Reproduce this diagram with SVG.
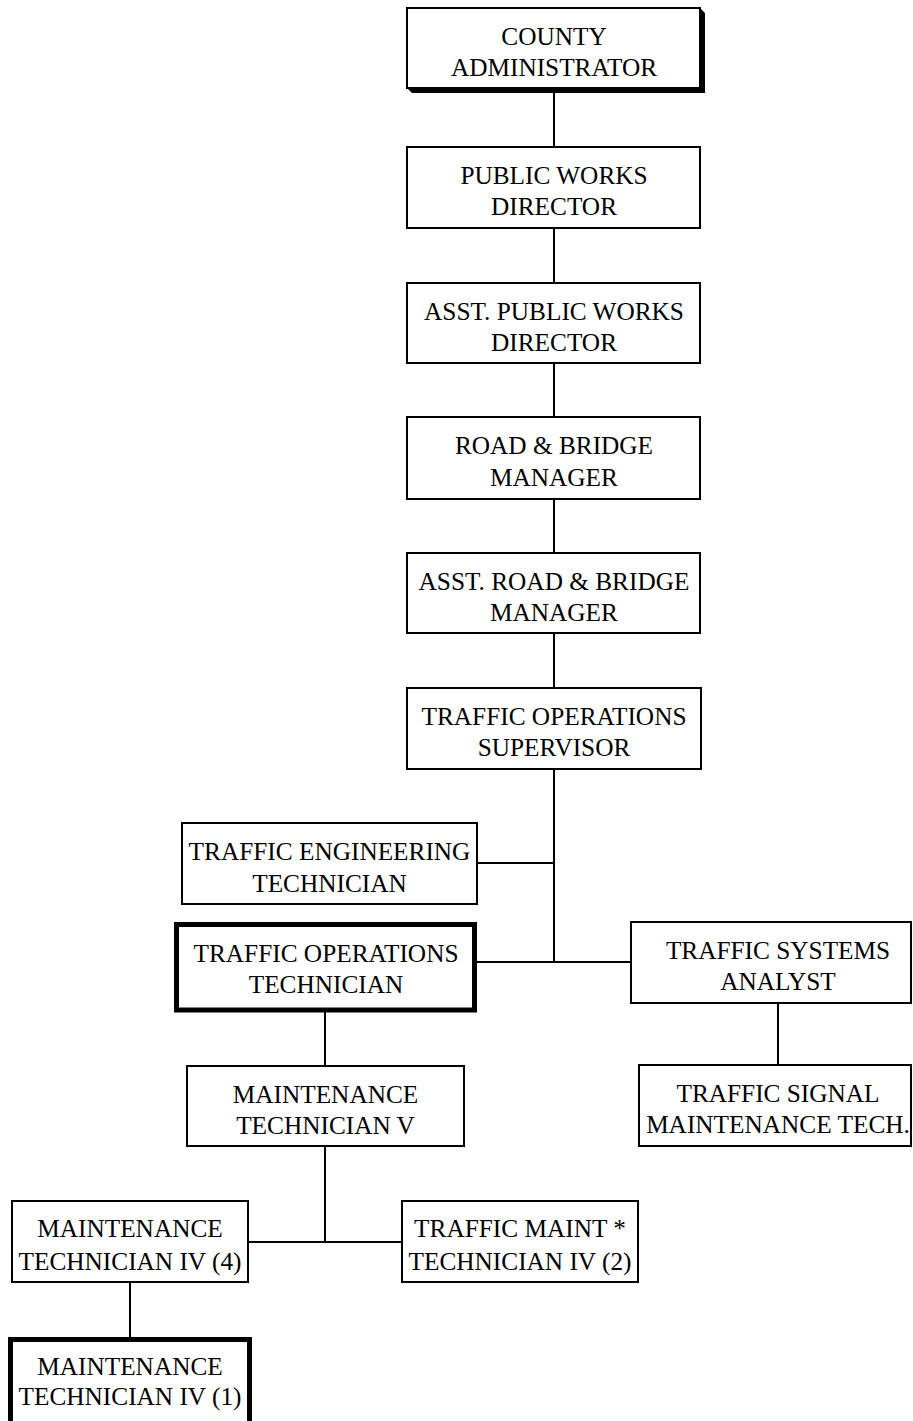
<svg xmlns="http://www.w3.org/2000/svg" width="913" height="1421" viewBox="0 0 913 1421">
  <style>
    .box { fill: #ffffff; stroke: #000000; stroke-width: 2; }
    .box-bold { fill: #ffffff; stroke: #000000; stroke-width: 5; }
    .shadow { fill: #000000; }
    .label { font-family: "Liberation Serif", "Times New Roman", serif; font-size: 25.3px; fill: #000000; text-anchor: middle; }
    .link { stroke: #000000; stroke-width: 2; fill: none; }
  </style>
  <rect x="0" y="0" width="913" height="1421" fill="#ffffff"/>

  <g id="connectors">
    <line class="link" x1="554" y1="88" x2="554" y2="147"/>
    <line class="link" x1="554" y1="228" x2="554" y2="283"/>
    <line class="link" x1="554" y1="363" x2="554" y2="417"/>
    <line class="link" x1="554" y1="499" x2="554" y2="553"/>
    <line class="link" x1="554" y1="633" x2="554" y2="688"/>
    <line class="link" x1="554" y1="769" x2="554" y2="962"/>
    <line class="link" x1="477" y1="863" x2="554" y2="863"/>
    <line class="link" x1="477" y1="962" x2="631" y2="962"/>
    <line class="link" x1="778" y1="1003" x2="778" y2="1065"/>
    <line class="link" x1="325" y1="1012" x2="325" y2="1066"/>
    <line class="link" x1="325" y1="1146" x2="325" y2="1242"/>
    <line class="link" x1="248" y1="1242" x2="402" y2="1242"/>
    <line class="link" x1="130" y1="1282" x2="130" y2="1339"/>
  </g>

  <g id="county-administrator">
    <polygon class="shadow" points="700,8 705,13 705,93 412,93 407,88 700,88"/>
    <rect class="box" x="407" y="8" width="293" height="80"/>
    <text class="label" x="554" y="45">COUNTY</text>
    <text class="label" x="554" y="76">ADMINISTRATOR</text>
  </g>

  <g id="public-works-director">
    <rect class="box" x="407" y="147" width="293" height="81"/>
    <text class="label" x="554" y="184">PUBLIC WORKS</text>
    <text class="label" x="554" y="215">DIRECTOR</text>
  </g>

  <g id="asst-public-works-director">
    <rect class="box" x="407" y="283" width="293" height="80"/>
    <text class="label" x="554" y="320">ASST. PUBLIC WORKS</text>
    <text class="label" x="554" y="351">DIRECTOR</text>
  </g>

  <g id="road-bridge-manager">
    <rect class="box" x="407" y="417" width="293" height="82"/>
    <text class="label" x="554" y="454">ROAD &amp; BRIDGE</text>
    <text class="label" x="554" y="486">MANAGER</text>
  </g>

  <g id="asst-road-bridge-manager">
    <rect class="box" x="407" y="553" width="293" height="80"/>
    <text class="label" x="554" y="590">ASST. ROAD &amp; BRIDGE</text>
    <text class="label" x="554" y="621">MANAGER</text>
  </g>

  <g id="traffic-operations-supervisor">
    <rect class="box" x="407" y="688" width="294" height="81"/>
    <text class="label" x="554" y="725">TRAFFIC OPERATIONS</text>
    <text class="label" x="554" y="756">SUPERVISOR</text>
  </g>

  <g id="traffic-engineering-technician">
    <rect class="box" x="182" y="823" width="295" height="81"/>
    <text class="label" x="329.5" y="860">TRAFFIC ENGINEERING</text>
    <text class="label" x="329.5" y="892">TECHNICIAN</text>
  </g>

  <g id="traffic-operations-technician">
    <rect class="box-bold" x="176.5" y="924.5" width="298" height="85.5"/>
    <text class="label" x="326" y="962">TRAFFIC OPERATIONS</text>
    <text class="label" x="326" y="993">TECHNICIAN</text>
  </g>

  <g id="traffic-systems-analyst">
    <rect class="box" x="631" y="922" width="280" height="81"/>
    <text class="label" x="778" y="959">TRAFFIC SYSTEMS</text>
    <text class="label" x="778" y="990">ANALYST</text>
  </g>

  <g id="traffic-signal-maintenance-tech">
    <rect class="box" x="639" y="1065" width="272" height="81"/>
    <text class="label" x="778" y="1102">TRAFFIC SIGNAL</text>
    <text class="label" x="778" y="1133">MAINTENANCE TECH.</text>
  </g>

  <g id="maintenance-technician-v">
    <rect class="box" x="187" y="1066" width="277" height="80"/>
    <text class="label" x="325.5" y="1103">MAINTENANCE</text>
    <text class="label" x="325.5" y="1134">TECHNICIAN V</text>
  </g>

  <g id="maintenance-technician-iv-4">
    <rect class="box" x="12" y="1201" width="236" height="81"/>
    <text class="label" x="130" y="1237">MAINTENANCE</text>
    <text class="label" x="130" y="1270">TECHNICIAN IV (4)</text>
  </g>

  <g id="traffic-maint-technician-iv-2">
    <rect class="box" x="402" y="1201" width="236" height="81"/>
    <text class="label" x="520" y="1237">TRAFFIC MAINT *</text>
    <text class="label" x="520" y="1270">TECHNICIAN IV (2)</text>
  </g>

  <g id="maintenance-technician-iv-1">
    <rect class="box-bold" x="10.5" y="1339.5" width="239" height="90"/>
    <text class="label" x="130" y="1375">MAINTENANCE</text>
    <text class="label" x="130" y="1405">TECHNICIAN IV (1)</text>
  </g>
</svg>
